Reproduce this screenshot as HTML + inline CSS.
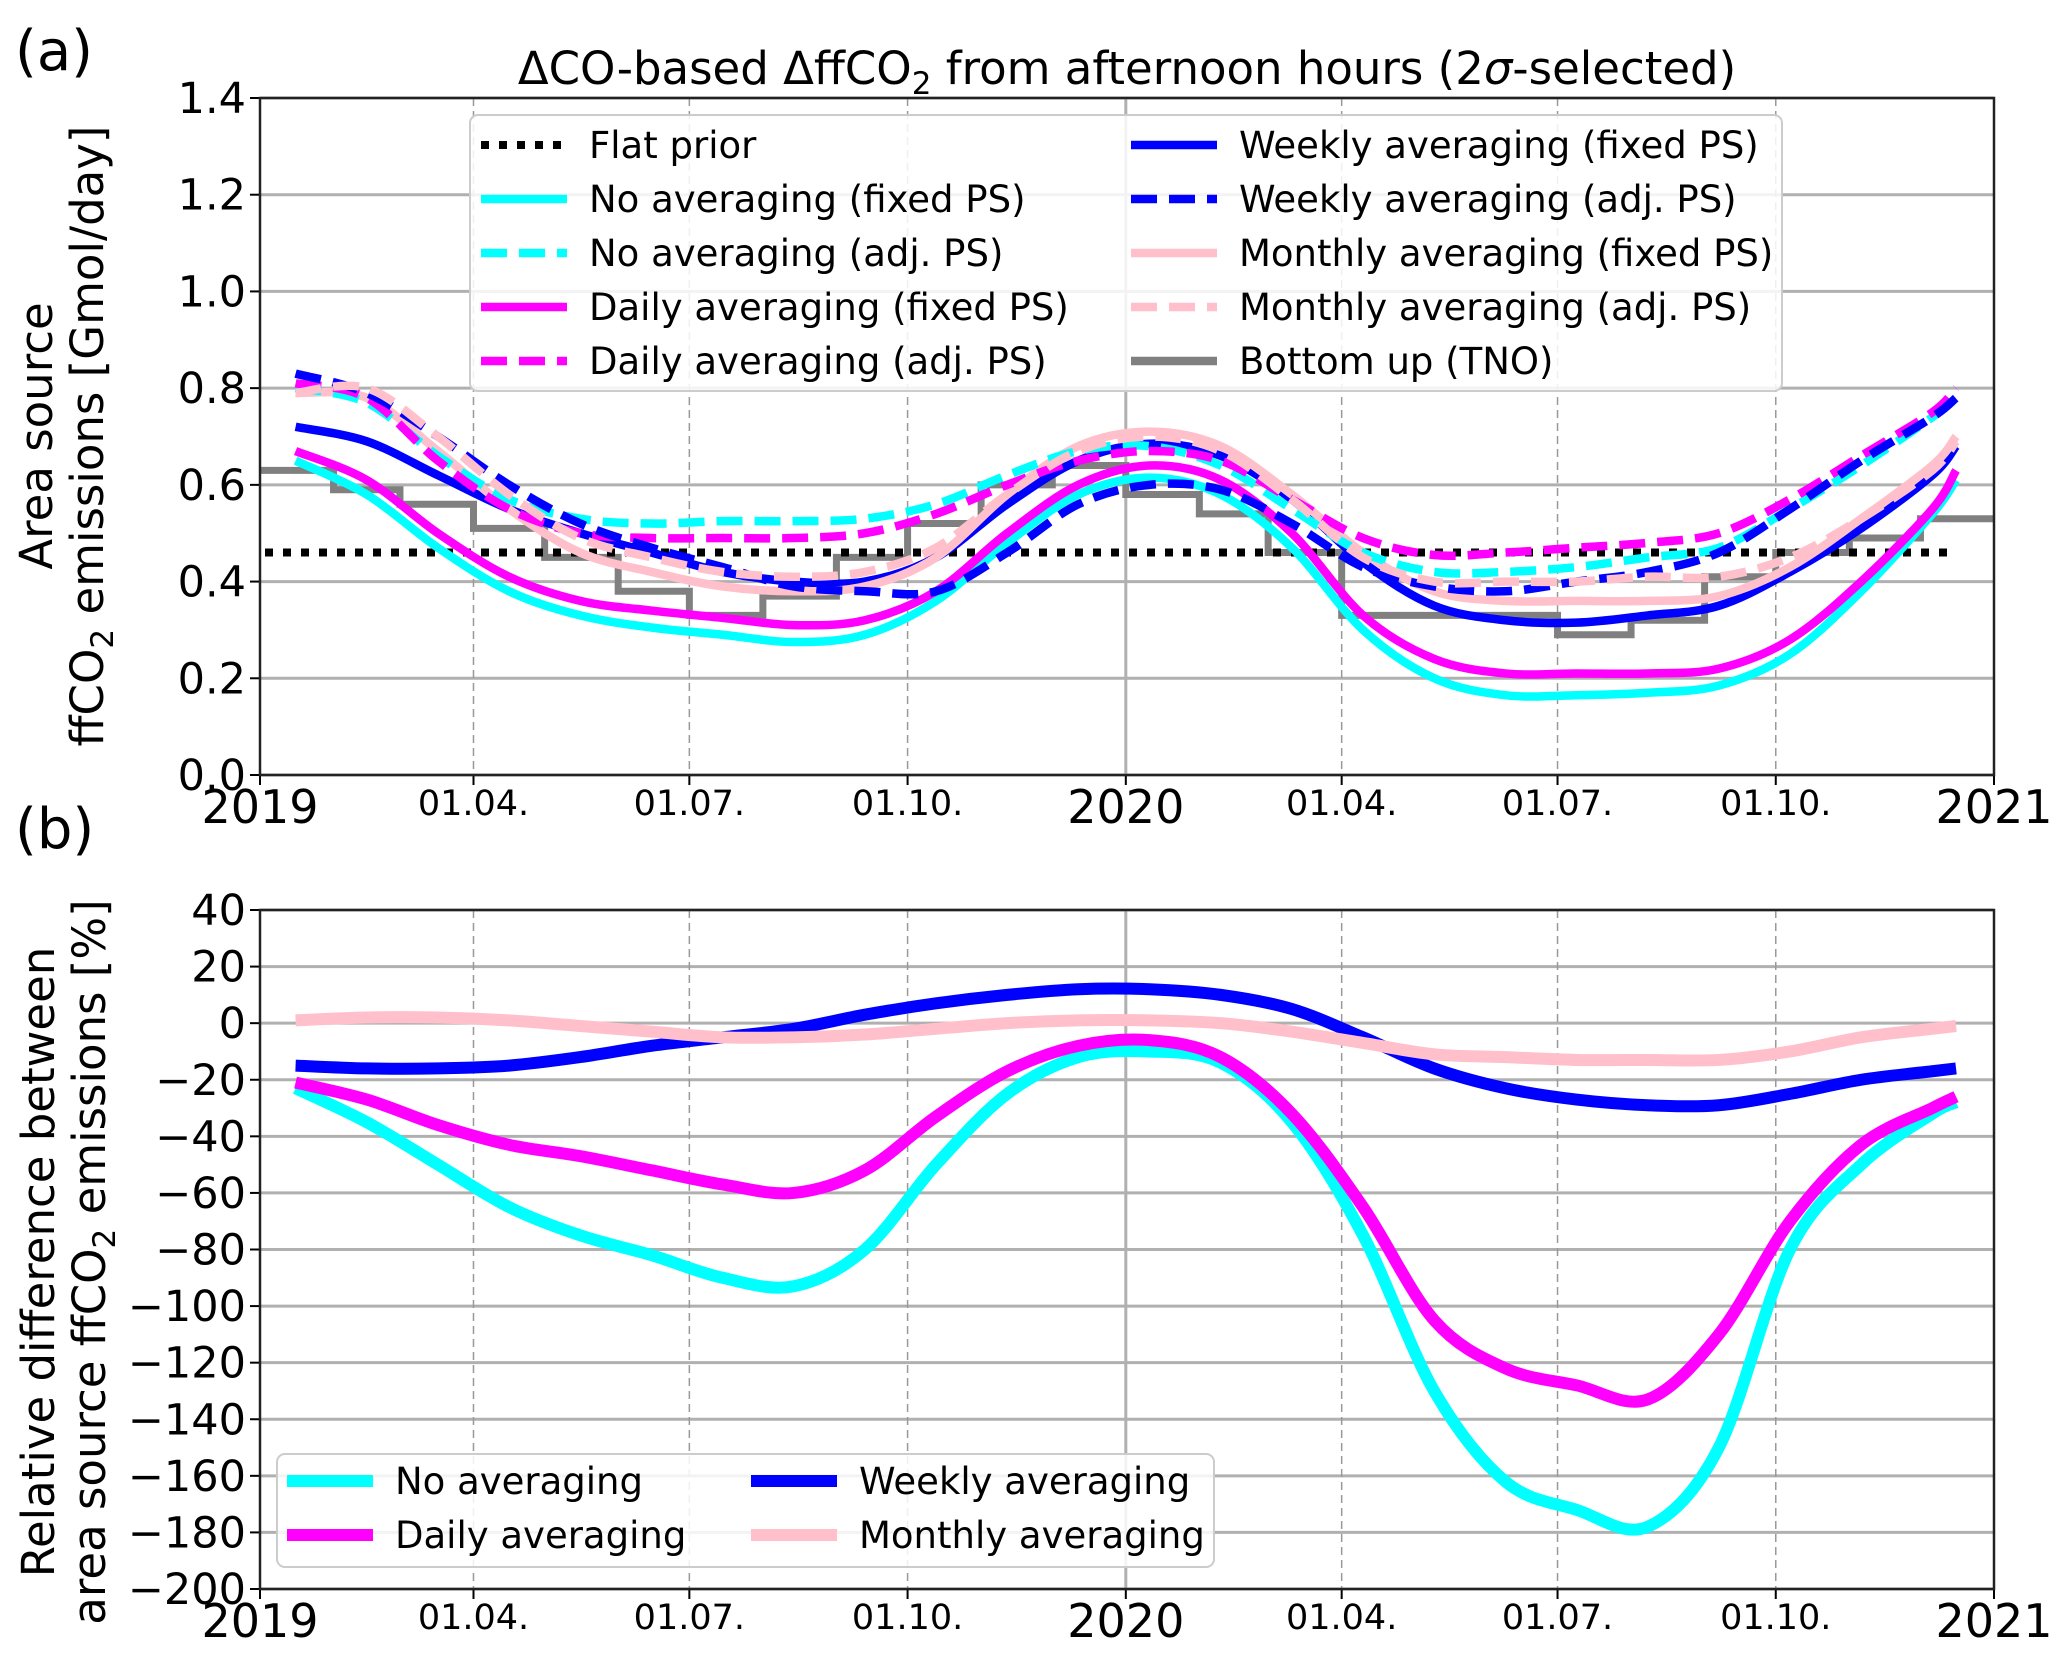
<!DOCTYPE html>
<html><head><meta charset="utf-8"><style>
body{margin:0;background:#fff}
svg{display:block;font-family:"DejaVu Sans","Liberation Sans",sans-serif}
</style></head><body>
<svg id="chart" width="2067" height="1655" viewBox="0 0 2067 1655" xmlns="http://www.w3.org/2000/svg">
<rect width="2067" height="1655" fill="#fff"/>
<g id="gA"></g>
<g id="gB"></g>
<text x="15" y="70" font-size="56">(a)</text>
<text x="15" y="848" font-size="56">(b)</text>
<text x="1127" y="84" font-size="45" text-anchor="middle">ΔCO-based ΔffCO<tspan font-size="31" dy="10">2</tspan><tspan dy="-10"> from afternoon hours (2</tspan><tspan font-style="italic">σ</tspan>-selected)</text>
<text transform="translate(52,436) rotate(-90)" font-size="45" text-anchor="middle">Area source</text>
<text transform="translate(103,436) rotate(-90)" font-size="45" text-anchor="middle">ffCO<tspan font-size="31" dy="10">2</tspan><tspan dy="-10"> emissions [Gmol/day]</tspan></text>
<text transform="translate(54,1262) rotate(-90)" font-size="45" text-anchor="middle">Relative difference between</text>
<text transform="translate(105,1262) rotate(-90)" font-size="45" text-anchor="middle">area source ffCO<tspan font-size="31" dy="10">2</tspan><tspan dy="-10"> emissions [%]</tspan></text>
</svg>
<script>
// ---- data ----
const days = [15,45,75,105,135,165,195,225,255,285,315,345,375,405,435,465,495,525,555,585,615,645,675,705,715];
const noFixed   = [0.65,0.58,0.47,0.38,0.33,0.305,0.29,0.275,0.29,0.36,0.48,0.58,0.615,0.58,0.47,0.3,0.2,0.165,0.165,0.17,0.185,0.25,0.38,0.54,0.61];
const dailyFixed= [0.67,0.61,0.5,0.41,0.36,0.34,0.325,0.31,0.32,0.38,0.5,0.6,0.64,0.61,0.5,0.33,0.24,0.21,0.21,0.21,0.22,0.28,0.4,0.55,0.63];
const weeklyFixed=[0.72,0.69,0.62,0.55,0.5,0.46,0.42,0.4,0.4,0.45,0.56,0.65,0.685,0.66,0.57,0.44,0.35,0.32,0.315,0.33,0.35,0.42,0.51,0.62,0.68];
const monthlyFixed=[0.79,0.78,0.67,0.55,0.46,0.42,0.39,0.38,0.39,0.45,0.58,0.68,0.71,0.68,0.58,0.46,0.38,0.36,0.36,0.36,0.37,0.43,0.53,0.64,0.7];
const noAdj     = [0.8,0.77,0.66,0.57,0.53,0.52,0.525,0.525,0.53,0.56,0.62,0.67,0.68,0.64,0.55,0.46,0.42,0.42,0.43,0.45,0.47,0.55,0.64,0.74,0.78];
const dailyAdj  = [0.81,0.78,0.65,0.55,0.5,0.49,0.49,0.49,0.5,0.54,0.6,0.65,0.67,0.65,0.57,0.49,0.455,0.46,0.47,0.48,0.5,0.57,0.66,0.75,0.8];
const weeklyAdj = [0.83,0.79,0.7,0.6,0.52,0.47,0.43,0.39,0.38,0.38,0.46,0.56,0.6,0.59,0.52,0.43,0.39,0.38,0.4,0.42,0.46,0.55,0.65,0.74,0.78];
const monthlyAdj= [0.79,0.8,0.7,0.58,0.49,0.45,0.42,0.41,0.42,0.47,0.58,0.67,0.7,0.67,0.57,0.45,0.4,0.4,0.4,0.41,0.41,0.45,0.53,0.63,0.69];
const flatPrior = 0.46;
const tnoMonths = [0,31,59,90,120,151,181,212,243,273,304,334,365,396,425,456,486,517,547,578,609,639,670,700,731];
const tnoValues = [0.63,0.59,0.56,0.51,0.45,0.38,0.33,0.37,0.45,0.52,0.6,0.64,0.58,0.54,0.46,0.33,0.33,0.33,0.29,0.32,0.41,0.46,0.49,0.53];
const relNo     = [-23,-35,-50,-65,-75,-82,-90,-93,-80,-50,-25,-12,-10,-14,-35,-75,-130,-162,-172,-178,-150,-80,-50,-32,-28];
const relDaily  = [-21,-27,-36,-43,-47,-52,-57,-60,-52,-33,-17,-8,-6,-12,-32,-65,-105,-122,-128,-133,-110,-70,-43,-30,-26];
const relWeekly = [-15,-16,-16,-15,-12,-8,-5,-2,3,7,10,12,12,10,5,-5,-16,-23,-27,-29,-29,-25,-20,-17,-16];
const relMonthly= [1,2,2,1,-1,-3,-5,-5,-4,-2,0,1,1,0,-3,-7,-11,-12,-13,-13,-13,-10,-5,-2,-1];
const yTicksA = [0,0.2,0.4,0.6,0.8,1.0,1.2,1.4];
const yTicksB = [40,20,0,-20,-40,-60,-80,-100,-120,-140,-160,-180,-200];
const xTickDays = [0,90,181,273,365,456,547,639,731];
const xTickLabels = ["2019","01.04.","01.07.","01.10.","2020","01.04.","01.07.","01.10.","2021"];

// ---- layout ----
const NS="http://www.w3.org/2000/svg";
const L=260,R=1994;
const X=d=>L+d/731*(R-L);
const A={top:98,bot:775,min:0,max:1.4};
const B={top:910,bot:1589,min:-200,max:40};
const Y=(p,v)=>p.bot-(v-p.min)/(p.max-p.min)*(p.bot-p.top);
function el(parent,tag,attrs){const e=document.createElementNS(NS,tag);for(const k in attrs)e.setAttribute(k,attrs[k]);parent.appendChild(e);return e;}
function smooth(pts){let d="M"+pts[0][0]+","+pts[0][1];for(let i=0;i<pts.length-1;i++){const p0=pts[i-1]||pts[i],p1=pts[i],p2=pts[i+1],p3=pts[i+2]||p2;
 d+=" C"+(p1[0]+(p2[0]-p0[0])/6)+","+(p1[1]+(p2[1]-p0[1])/6)+" "+(p2[0]-(p3[0]-p1[0])/6)+","+(p2[1]-(p3[1]-p1[1])/6)+" "+p2[0]+","+p2[1];}return d;}

function axes(g,p,yt,fmt){
 yt.forEach(v=>{const y=Y(p,v);
  const gl=el(g,"line",{x1:L,x2:R,y1:y,y2:y,stroke:"#b0b0b0","stroke-width":3});
  
  
  const tk=el(g,"line",{x1:L-10,x2:L,y1:y,y2:y,stroke:"#000","stroke-width":2});
  
  
  const t=el(g,"text",{x:L-14,y:y+15,"font-size":43,"text-anchor":"end"});t.textContent=fmt(v);
  
  
 });
 xTickDays.forEach((d,i)=>{const x=X(d);
  if(i>0&&i<xTickDays.length-1){
   const gl=el(g,"line",{x1:x,x2:x,y1:p.top,y2:p.bot,stroke:i==4?"#b0b0b0":"#999","stroke-width":i==4?3:1.5,"stroke-dasharray":i==4?"none":"8,5"});
   
   }
  const tk=el(g,"line",{x1:x,x2:x,y1:p.bot,y2:p.bot+10,stroke:"#000","stroke-width":2});
  
  
  const yr=xTickLabels[i].length==4;
  const t=el(g,"text",{x:x,y:p.bot+(yr?48:40),"font-size":yr?46:35,"text-anchor":"middle"});t.textContent=xTickLabels[i];
  
  
 });
}
function frame(g,p){const r=el(g,"rect",{x:L,y:p.top,width:R-L,height:p.bot-p.top,fill:"none",stroke:"#222","stroke-width":2.5});
 
 }
function series(g,p,vals,color,w,dash,name){
 const pts=days.map((d,i)=>[X(d),Y(p,vals[i])]);
 const path=el(g,"path",{d:smooth(pts),fill:"none",stroke:color,"stroke-width":w,"stroke-dasharray":dash||"none"});
 
 
}
function legend(g,box,items){
 const r=el(g,"rect",{x:box.x,y:box.y,width:box.w,height:box.h,rx:8,fill:"#fff","fill-opacity":0.85,stroke:"#ccc","stroke-width":2});
 
 
 items.forEach(it=>{
  const ln=el(g,"line",{x1:it.x,x2:it.x+box.hw,y1:it.y,y2:it.y,stroke:it.c,"stroke-width":it.w,"stroke-dasharray":it.dash||"none"});
  
  
  const t=el(g,"text",{x:it.x+box.hw+22,y:it.y+13,"font-size":box.fs});t.textContent=it.t;
  
  
 });
}

// Panel A
const gA=document.getElementById("gA");
axes(gA,A,yTicksA,v=>v.toFixed(1));
const stepPts=[];tnoValues.forEach((v,i)=>{stepPts.push([X(tnoMonths[i]),Y(A,v)]);stepPts.push([X(tnoMonths[i+1]),Y(A,v)]);});
const tno=el(gA,"path",{d:"M"+stepPts.map(p=>p.join(",")).join(" L"),fill:"none",stroke:"#808080","stroke-width":7});


const fp=el(gA,"line",{x1:X(0)+5,x2:X(715),y1:Y(A,flatPrior),y2:Y(A,flatPrior),stroke:"#000","stroke-width":8,"stroke-dasharray":"8,10"});


const LW=8.5;
series(gA,A,noFixed,"#00ffff",LW,null,"no-averaging-fixed-line");
series(gA,A,dailyFixed,"#ff00ff",LW,null,"daily-averaging-fixed-line");
series(gA,A,weeklyFixed,"#0000ff",LW,null,"weekly-averaging-fixed-line");
series(gA,A,monthlyFixed,"#ffc0cb",LW,null,"monthly-averaging-fixed-line");
series(gA,A,noAdj,"#00ffff",LW,"26,12","no-averaging-adj-line");
series(gA,A,dailyAdj,"#ff00ff",LW,"26,12","daily-averaging-adj-line");
series(gA,A,weeklyAdj,"#0000ff",LW,"26,12","weekly-averaging-adj-line");
series(gA,A,monthlyAdj,"#ffc0cb",LW,"26,12","monthly-averaging-adj-line");
frame(gA,A);
const rowsA=[145,199,253,307,361];
legend(gA,{x:470,y:115,w:1312,h:276,hw:86,fs:37},[
 {x:481,y:rowsA[0],c:"#000",w:8,dash:"8,10",t:"Flat prior"},
 {x:481,y:rowsA[1],c:"#00ffff",w:LW,t:"No averaging (fixed PS)"},
 {x:481,y:rowsA[2],c:"#00ffff",w:LW,dash:"26,12",t:"No averaging (adj. PS)"},
 {x:481,y:rowsA[3],c:"#ff00ff",w:LW,t:"Daily averaging (fixed PS)"},
 {x:481,y:rowsA[4],c:"#ff00ff",w:LW,dash:"26,12",t:"Daily averaging (adj. PS)"},
 {x:1131,y:rowsA[0],c:"#0000ff",w:LW,t:"Weekly averaging (fixed PS)"},
 {x:1131,y:rowsA[1],c:"#0000ff",w:LW,dash:"26,12",t:"Weekly averaging (adj. PS)"},
 {x:1131,y:rowsA[2],c:"#ffc0cb",w:LW,t:"Monthly averaging (fixed PS)"},
 {x:1131,y:rowsA[3],c:"#ffc0cb",w:LW,dash:"26,12",t:"Monthly averaging (adj. PS)"},
 {x:1131,y:rowsA[4],c:"#808080",w:LW,t:"Bottom up (TNO)"}
]);

// Panel B
const gB=document.getElementById("gB");
axes(gB,B,yTicksB,v=>v<0?"\u2212"+(-v):String(v));
series(gB,B,relNo,"#00ffff",12,null,"rel-no-averaging-line");
series(gB,B,relDaily,"#ff00ff",12,null,"rel-daily-averaging-line");
series(gB,B,relWeekly,"#0000ff",12,null,"rel-weekly-averaging-line");
series(gB,B,relMonthly,"#ffc0cb",12,null,"rel-monthly-averaging-line");
frame(gB,B);
legend(gB,{x:277,y:1454,w:937,h:113,hw:86,fs:37},[
 {x:287,y:1481,c:"#00ffff",w:12,t:"No averaging"},
 {x:287,y:1535,c:"#ff00ff",w:12,t:"Daily averaging"},
 {x:751,y:1481,c:"#0000ff",w:12,t:"Weekly averaging"},
 {x:751,y:1535,c:"#ffc0cb",w:12,t:"Monthly averaging"}
]);
</script>
</body></html>
